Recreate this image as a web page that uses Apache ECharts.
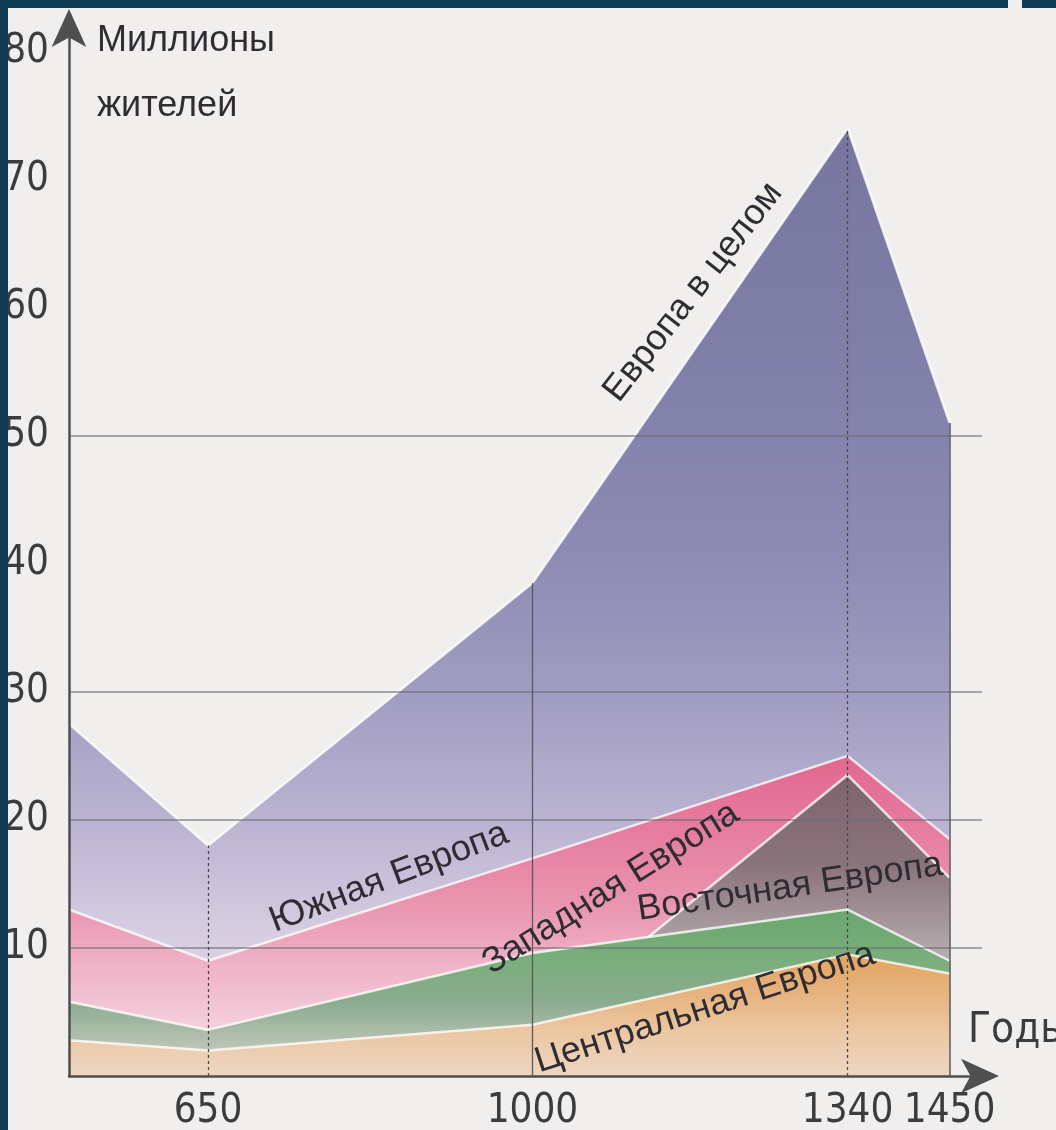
<!DOCTYPE html>
<html><head><meta charset="utf-8">
<script src="https://cdn.jsdelivr.net/npm/echarts@6/dist/echarts.min.js"></script>
<style>
html,body{margin:0;padding:0;background:#f1efee;overflow:hidden;}
#chart{position:absolute;left:0;top:0;width:1056px;height:1130px;}
.b{position:absolute;background:#103b52;}
</style></head><body>
<div id="chart"></div>
<div class="b" style="left:0;top:0;width:8px;height:1130px"></div>
<div class="b" style="left:0;top:0;width:1008px;height:8px"></div>
<div class="b" style="left:1022px;top:0;width:34px;height:8px"></div>
<script>
// ---- data ----
const years = [500, 650, 1000, 1340, 1450];
const europeTotal   = [27.5, 18, 38.5, 74, 51];
const southEurope   = [13, 9, 17, 25, 18.5];
const westEurope    = [5.5, 3.5, 3.5, 23.5, 15.5];
const eastEurope    = [5.8, 3.6, 9.6, 13, 9];
const centralEurope = [2.8, 2, 4, 9.5, 8];
const seriesNames = ['Европа в целом', 'Южная Европа', 'Западная Европа', 'Восточная Европа', 'Центральная Европа'];
const xTickLabels = [650, 1000, 1340, 1450];
const yTickLabels = [10, 20, 30, 40, 50, 60, 70, 80];
const gridValues = [10, 20, 30, 50];
const xAxisName = 'Годы';
const yAxisName = 'Миллионы\nжителей';

// ---- styles ----
const NARROW = '"Liberation Sans Narrow", "Arial Narrow", "DejaVu Sans Condensed", "Liberation Sans", sans-serif';
const REG = '"Liberation Sans", Arial, sans-serif';
const TXT = '#2f2d33';
const TICK = '#3c3c3c';
const AXIS = '#4f4f4f';

const stops = {
  total: [[0,'#76769f'],[0.25,'#7f7fa9'],[0.45,'#8d8bb4'],[0.6,'#a19dc2'],[0.72,'#b8b1d0'],[0.85,'#d6cde0'],[1,'#e6dde6']],
  south: [[0,'#e2678f'],[0.25,'#e67ea0'],[0.45,'#e993ae'],[0.65,'#efb2c6'],[0.85,'#f4d0dc'],[1,'#f7e0e8']],
  west:  [[0,'#7e636d'],[0.3,'#8a747b'],[0.5,'#a6999d'],[0.65,'#bfb6b8'],[1,'#d6cfcf']],
  east:  [[0,'#6aa56f'],[0.3,'#7aaf7c'],[0.55,'#8aab8e'],[0.8,'#b6c2b2'],[1,'#dcd3c4']],
  central: [[0,'#e3a45e'],[0.35,'#e7b583'],[0.65,'#ebc8a4'],[1,'#eed6c2']]
};

function areaSeries(name, values, st, z, extra) {
  return Object.assign({
    name: name, type: 'line', silent: true, symbol: 'none', showSymbol: false, z: z,
    data: years.map((y, i) => [y, values[i]]),
    lineStyle: { color: 'rgba(255,255,255,0.78)', width: 2.5 },
    areaStyle: { opacity: 1, color: { type: 'linear', x: 0, y: 0, x2: 0, y2: 1,
      colorStops: st.map(s => ({ offset: s[0], color: s[1] })) } }
  }, extra || {});
}

const gridLineStyle = { color: '#6b6b78', width: 1.5, type: 'solid', opacity: 0.75 };
const vertStyles = [
  { color: '#4a4a4a', width: 1.3, type: [3, 3] },
  { color: '#5a5a5a', width: 1.3, type: 'solid' },
  { color: '#4a4a4a', width: 1.3, type: [3, 3] },
  { color: '#5a5a5a', width: 1.5, type: 'solid' }
];
const markData = gridValues.map(v => ({ yAxis: v, lineStyle: gridLineStyle }))
  .concat(xTickLabels.map((yr, k) => {
    const i = years.indexOf(yr);
    return [{ coord: [yr, 0], lineStyle: vertStyles[k] }, { coord: [yr, europeTotal[i]] }];
  }));

const chart = echarts.init(document.getElementById('chart'), null, { renderer: 'canvas' });
chart.setOption({
  animation: false,
  backgroundColor: '#f1efee',
  grid: { left: 69, right: 74, top: 26, bottom: 54, containLabel: false, outerBoundsMode: 'none' },
  xAxis: {
    type: 'value', min: 500, max: 1485, z: 20,
    axisLine: { show: true, onZero: false, symbol: ['none', 'arrow'], symbolSize: [26, 38], symbolOffset: [0, 17],
      lineStyle: { color: AXIS, width: 2.5 } },
    axisTick: { show: false }, splitLine: { show: false },
    axisLabel: { customValues: xTickLabels, formatter: v => String(v), fontSize: 40, fontFamily: NARROW, color: TICK, margin: 16 },
    name: xAxisName, nameLocation: 'end', nameGap: -14,
    nameTextStyle: { fontSize: 42, fontFamily: NARROW, color: TICK, align: 'left', verticalAlign: 'bottom', padding: [0, 0, 24, 0] }
  },
  yAxis: {
    type: 'value', min: 0, max: 82, interval: 10, z: 20,
    axisLine: { show: true, symbol: ['none', 'arrow'], symbolSize: [26, 38], symbolOffset: [0, 17],
      lineStyle: { color: AXIS, width: 2.5 } },
    axisTick: { show: false }, splitLine: { show: false },
    axisLabel: { fontSize: 40, fontFamily: NARROW, color: TICK, margin: 20,
      formatter: v => (yTickLabels.indexOf(v) >= 0 ? String(v) : '') },
    name: yAxisName, nameLocation: 'end', nameGap: 17,
    nameTextStyle: { fontSize: 36, fontFamily: REG, color: TXT, align: 'left', verticalAlign: 'top', lineHeight: 65, padding: [0, 0, 0, 28] }
  },
  series: [
    areaSeries(seriesNames[0], europeTotal, stops.total, 1),
    areaSeries(seriesNames[1], southEurope, stops.south, 2),
    areaSeries(seriesNames[2], westEurope, stops.west, 3),
    areaSeries(seriesNames[3], eastEurope, stops.east, 4),
    areaSeries(seriesNames[4], centralEurope, stops.central, 5, {
      markLine: { silent: true, z: 10, symbol: ['none', 'none'], label: { show: false }, animation: false, data: markData }
    })
  ]
});

// ---- series labels, placed along their own data segments ----
const labelSpecs = [
  { text: seriesNames[0], values: europeTotal,   seg: 2, t: 0.51,  dx: 0, dy: -59, angle: 52 },
  { text: seriesNames[1], values: southEurope,   seg: 1, t: 0.558, dx: 0, dy: -26, angle: 21 },
  { text: seriesNames[2], values: westEurope,    seg: 2, t: 0.249, dx: 0, dy: -79, angle: 32 },
  { text: seriesNames[3], values: eastEurope,    seg: 2, t: 0.817, dx: 0, dy: -30, angle: 8.5 },
  { text: seriesNames[4], values: centralEurope, seg: 2, t: 0.547, dx: 0, dy: 22,  angle: 18 }
];
const graphics = labelSpecs.map(s => {
  const a = chart.convertToPixel({ gridIndex: 0 }, [years[s.seg], s.values[s.seg]]);
  const b = chart.convertToPixel({ gridIndex: 0 }, [years[s.seg + 1], s.values[s.seg + 1]]);
  return {
    type: 'text', silent: true, z: 100,
    x: a[0] + s.t * (b[0] - a[0]) + s.dx,
    y: a[1] + s.t * (b[1] - a[1]) + s.dy,
    rotation: s.angle * Math.PI / 180,
    style: { text: s.text, fill: TXT, font: '36px ' + REG,
      textAlign: 'center', textVerticalAlign: 'middle', align: 'center', verticalAlign: 'middle' }
  };
});
chart.setOption({ graphic: graphics });
</script>
</body></html>
